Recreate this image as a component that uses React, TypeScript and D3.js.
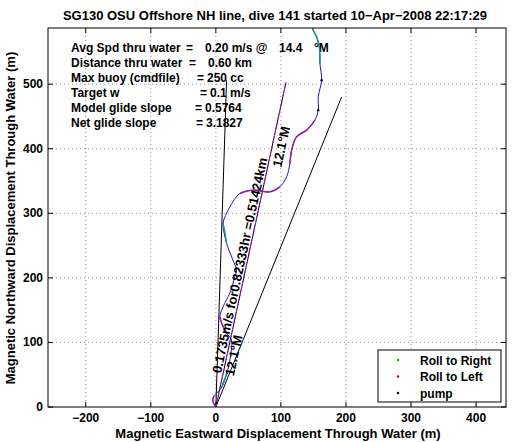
import React from "react";
import * as d3 from "d3";

const title = "SG130 OSU Offshore NH line, dive 141 started 10\u2212Apr\u22122008 22:17:29";
const xLabel = "Magnetic Eastward Displacement Through Water (m)";
const yLabel = "Magnetic Northward Displacement Through Water (m)";
const xTicks = [-200, -100, 0, 100, 200, 300, 400];
const yTicks = [0, 100, 200, 300, 400, 500];
const xDomain = [-258, 446];
const yDomain = [0, 587];

// glider track (east, north) in metres
const trackEast = [0, -4.6, -3, 1.5, 9.2, 17, 21.5, 24, 16.5, 8.8, 6.2, 11.2, 21.5, 29.2, 31.8, 26.2, 16.5, 11.2, 16.5, 21.5, 37, 57.4, 83, 98.5, 108.8, 113.8, 116.5, 124, 139.5, 152.3, 157.4, 157.4, 162.6, 160, 159, 155, 149.7, 146];
const trackNorth = [0, 9.3, 17, 21.7, 31, 52.6, 72.8, 103.7, 114.5, 130, 139.8, 155.3, 176.5, 201.7, 212, 227.6, 253.9, 284.8, 300, 310, 330.8, 335.9, 333.3, 341, 356.5, 377, 397.8, 418.4, 428.8, 444.3, 459.8, 480.3, 506, 532, 557.7, 573, 583.6, 595];
const rollLeftRanges = [[0, 2], [8, 10], [20, 23], [25, 29]];
const rollRightRanges = [[4, 5], [16, 17], [33, 37]];
const pumpIdx = [30, 32];

// straight reference lines from origin
const refLineEnds = [[16.5, 506], [193.4, 480.3]];
const headingEnd = [107.7, 502.6];
const headingLabelAnchor = [10.9, 50.8];
const headingTopAnchor = [84, 374];

const infoLabels = ["Avg Spd thru water", "Distance thru water", "Max buoy (cmdfile)", "Target w", "Model glide slope", "Net glide slope"];
const infoValues = ["0.20 m/s @", "0.60 km", "250 cc", "0.1 m/s", "0.5764", "3.1827"];
const infoEqX = [186, 189, 197, 200, 195, 196];
const infoValueX = [205, 208, 207, 210, 205, 206];
const speedHeading = "14.4";
const speedHeadingUnit = "\u00b0M";

const legendItems = ["Roll to Right", "Roll to Left", "pump"];
const legendColors = ["#00c000", "#d00000", "#000000"];

export default function App() {
  const W = 514, H = 442;
  const L = 48, R = 506, T = 28, B = 407;
  const x = d3.scaleLinear().domain(xDomain).range([L, R]);
  const y = d3.scaleLinear().domain(yDomain).range([B, T]);
  const pts = trackEast.map((e, i) => [e, trackNorth[i]] as [number, number]);
  const line = d3.line<[number, number]>().x(d => x(d[0])).y(d => y(d[1])).curve(d3.curveCatmullRom.alpha(0.5));
  const font = "'Liberation Sans', Arial, Helvetica, sans-serif";
  const ang = Math.atan2(y(headingEnd[1]) - y(0), x(headingEnd[0]) - x(0)) * 180 / Math.PI;
  const tickLen = 5;
  const seg = (r: number[]) => line(pts.slice(r[0], r[1] + 1)) ?? "";
  return (
    <svg width={W} height={H} style={{ position: "absolute", left: 0, top: 0, background: "#fff" }} fontFamily={font} fontWeight="bold">
      <defs>
        <clipPath id="clip"><rect x={L} y={T} width={R - L} height={B - T} /></clipPath>
      </defs>
      <rect x={0} y={0} width={W} height={H} fill="#fff" />
      {/* grid */}
      {xTicks.map(t => (
        <line key={"gx" + t} x1={x(t)} x2={x(t)} y1={T} y2={B} stroke="#777" strokeWidth={0.8} strokeDasharray="1,3" />
      ))}
      {yTicks.filter(t => t > 0).map(t => (
        <line key={"gy" + t} x1={L} x2={R} y1={y(t)} y2={y(t)} stroke="#777" strokeWidth={0.8} strokeDasharray="1,3" />
      ))}
      {/* ticks */}
      {xTicks.map(t => (
        <g key={"tx" + t}>
          <line x1={x(t)} x2={x(t)} y1={B} y2={B - tickLen} stroke="#000" />
          <line x1={x(t)} x2={x(t)} y1={T} y2={T + tickLen} stroke="#000" />
          <text x={x(t)} y={B + 15} textAnchor="middle" fontSize={12}>{t < 0 ? "\u2212" + Math.abs(t) : t}</text>
        </g>
      ))}
      {yTicks.map(t => (
        <g key={"ty" + t}>
          <line x1={L} x2={L + tickLen} y1={y(t)} y2={y(t)} stroke="#000" />
          <line x1={R} x2={R - tickLen} y1={y(t)} y2={y(t)} stroke="#000" />
          <text x={L - 5} y={y(t) + 4} textAnchor="end" fontSize={12}>{t}</text>
        </g>
      ))}
      {/* info text (under the track, as in the reference) */}
      {infoLabels.map((s, i) => (
        <g key={"info" + i}>
          <text x={71} y={52 + i * 15} fontSize={12}>{s}</text>
          <text x={infoEqX[i]} y={52 + i * 15} fontSize={12}>=</text>
          <text x={infoValueX[i]} y={52 + i * 15} fontSize={12}>{infoValues[i]}</text>
        </g>
      ))}
      <text x={279} y={52} fontSize={12}>{speedHeading}</text>
      <text x={314} y={52} fontSize={12}>{speedHeadingUnit}</text>
      <g clipPath="url(#clip)">
        {refLineEnds.map((e, i) => (
          <line key={"rl" + i} x1={x(0)} y1={y(0)} x2={x(e[0])} y2={y(e[1])} stroke="#000" strokeWidth={1} />
        ))}
        <line x1={x(0)} y1={y(0)} x2={x(headingEnd[0])} y2={y(headingEnd[1])} stroke="#000" strokeWidth={1} />
        <line x1={x(0)} y1={y(0)} x2={x(headingEnd[0])} y2={y(headingEnd[1])} stroke="#e000e0" strokeWidth={1} strokeDasharray="3,3" />
        <path d={line(pts) ?? ""} fill="none" stroke="#1818c0" strokeWidth={1} />
        {rollLeftRanges.map((r, i) => (
          <path key={"ll" + i} d={seg(r)} fill="none" stroke="#9a1c9e" strokeWidth={1.5} />
        ))}
        {rollRightRanges.map((r, i) => (
          <path key={"rr" + i} d={seg(r)} fill="none" stroke="#1a8c8c" strokeWidth={1.5} />
        ))}
        {pumpIdx.map(i => (
          <circle key={"p" + i} cx={x(pts[i][0])} cy={y(pts[i][1])} r={1.2} fill="#000" />
        ))}
      </g>
      {/* frame */}
      <rect x={L} y={T} width={R - L} height={B - T} fill="none" stroke="#000" strokeWidth={1} />
      {/* rotated heading labels */}
      <g transform={`translate(${x(headingLabelAnchor[0])},${y(headingLabelAnchor[1])}) rotate(${ang})`}>
        <text x={0} y={-6.5} dominantBaseline="central" fontSize={13}>0.1735m/s for0.82333hr =0.51424km</text>
        <text x={0} y={6.5} dominantBaseline="central" fontSize={13}>12.1°M</text>
      </g>
      <g transform={`translate(${x(headingTopAnchor[0])},${y(headingTopAnchor[1])}) rotate(${ang})`}>
        <text x={0} y={6.5} dominantBaseline="central" fontSize={13}>12.1°M</text>
      </g>
      {/* legend */}
      <rect x={378} y={350} width={123} height={52} fill="#fff" stroke="#000" strokeWidth={1} />
      {legendItems.map((s, i) => (
        <g key={"lg" + i}>
          <circle cx={398} cy={360 + i * 16.5} r={1.2} fill={legendColors[i]} />
          <text x={420} y={364.5 + i * 16.5} fontSize={12}>{s}</text>
        </g>
      ))}
      {/* titles */}
      <text x={275} y={20} textAnchor="middle" fontSize={13}>{title}</text>
      <text x={278} y={438} textAnchor="middle" fontSize={13}>{xLabel}</text>
      <text transform={`translate(15,218) rotate(-90)`} textAnchor="middle" fontSize={13}>{yLabel}</text>
    </svg>
  );
}
